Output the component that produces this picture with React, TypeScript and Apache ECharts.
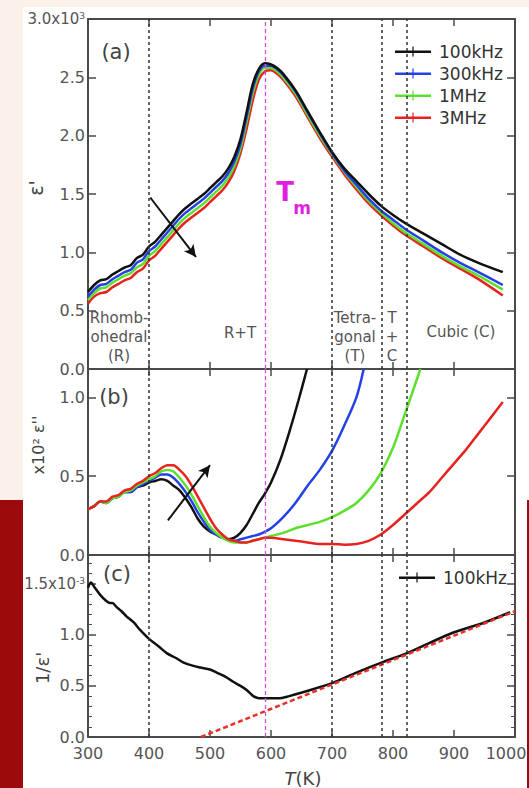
import React, { useEffect, useRef } from 'react';
import * as echarts from 'echarts';

// ---------- data ----------
const X_MIN = 300;
const X_MAX = 1000;

// panel (a): real permittivity (x10^3)
const T_A = [300, 310, 320, 330, 340, 350, 360, 370, 380, 390, 400, 410, 420, 430, 440, 450, 460, 470, 480, 490, 500, 510, 520, 530, 540, 550, 560, 570, 580, 590, 600, 610, 620, 640, 660, 680, 700, 720, 740, 760, 780, 800, 820, 850, 880, 910, 940, 980];
const EPS_100K = [0.66, 0.72, 0.76, 0.77, 0.81, 0.84, 0.87, 0.89, 0.95, 0.98, 1.05, 1.09, 1.15, 1.21, 1.27, 1.33, 1.38, 1.42, 1.46, 1.50, 1.55, 1.60, 1.65, 1.72, 1.82, 1.97, 2.20, 2.44, 2.57, 2.62, 2.61, 2.58, 2.53, 2.39, 2.21, 2.03, 1.86, 1.72, 1.61, 1.50, 1.40, 1.32, 1.25, 1.16, 1.07, 0.98, 0.91, 0.83];
const EPS_300K = [0.62, 0.68, 0.72, 0.73, 0.77, 0.80, 0.83, 0.85, 0.91, 0.94, 1.01, 1.05, 1.11, 1.17, 1.23, 1.29, 1.34, 1.38, 1.42, 1.46, 1.51, 1.56, 1.61, 1.68, 1.78, 1.93, 2.16, 2.40, 2.55, 2.60, 2.60, 2.57, 2.52, 2.38, 2.20, 2.02, 1.85, 1.70, 1.58, 1.46, 1.36, 1.28, 1.20, 1.10, 1.00, 0.91, 0.83, 0.72];
const EPS_1M = [0.59, 0.65, 0.69, 0.70, 0.74, 0.77, 0.80, 0.82, 0.87, 0.90, 0.97, 1.01, 1.07, 1.13, 1.19, 1.25, 1.30, 1.34, 1.38, 1.42, 1.47, 1.52, 1.57, 1.64, 1.74, 1.89, 2.12, 2.36, 2.52, 2.58, 2.58, 2.55, 2.50, 2.36, 2.18, 2.00, 1.84, 1.69, 1.56, 1.44, 1.34, 1.25, 1.17, 1.07, 0.97, 0.88, 0.80, 0.68];
const EPS_3M = [0.56, 0.62, 0.65, 0.66, 0.70, 0.73, 0.76, 0.78, 0.83, 0.86, 0.93, 0.97, 1.03, 1.09, 1.15, 1.21, 1.26, 1.30, 1.34, 1.38, 1.43, 1.48, 1.53, 1.60, 1.70, 1.85, 2.06, 2.30, 2.48, 2.55, 2.56, 2.53, 2.48, 2.34, 2.16, 1.98, 1.82, 1.67, 1.54, 1.42, 1.32, 1.23, 1.15, 1.05, 0.95, 0.86, 0.77, 0.63];

// panel (b): imaginary permittivity (x10^2)
const T_B_100K = [300, 310, 320, 330, 340, 350, 360, 370, 380, 390, 400, 410, 420, 430, 440, 450, 460, 470, 480, 490, 500, 510, 520, 530, 540, 550, 560, 570, 580, 590, 600, 615, 630, 645, 659];
const LOSS_100K = [0.29, 0.31, 0.34, 0.33, 0.36, 0.37, 0.40, 0.40, 0.43, 0.44, 0.46, 0.47, 0.48, 0.47, 0.44, 0.41, 0.36, 0.30, 0.23, 0.18, 0.15, 0.13, 0.11, 0.10, 0.11, 0.14, 0.19, 0.26, 0.33, 0.39, 0.46, 0.60, 0.78, 0.98, 1.18];
const T_B_300K = [300, 310, 320, 330, 340, 350, 360, 370, 380, 390, 400, 410, 420, 430, 440, 450, 460, 470, 480, 490, 500, 510, 520, 530, 540, 550, 560, 570, 580, 600, 620, 640, 660, 680, 700, 720, 740, 752];
const LOSS_300K = [0.29, 0.31, 0.34, 0.33, 0.36, 0.37, 0.40, 0.40, 0.43, 0.45, 0.47, 0.49, 0.51, 0.51, 0.49, 0.45, 0.40, 0.34, 0.27, 0.21, 0.16, 0.13, 0.11, 0.10, 0.09, 0.10, 0.11, 0.12, 0.13, 0.17, 0.24, 0.33, 0.44, 0.54, 0.66, 0.82, 1.00, 1.18];
const T_B_1M = [300, 310, 320, 330, 340, 350, 360, 370, 380, 390, 400, 410, 420, 430, 440, 450, 460, 470, 480, 490, 500, 510, 520, 530, 540, 550, 560, 570, 580, 600, 620, 640, 660, 680, 700, 720, 740, 760, 780, 800, 820, 845];
const LOSS_1M = [0.29, 0.31, 0.34, 0.33, 0.36, 0.37, 0.40, 0.41, 0.44, 0.46, 0.48, 0.50, 0.53, 0.54, 0.53, 0.49, 0.44, 0.38, 0.31, 0.24, 0.18, 0.14, 0.11, 0.09, 0.08, 0.08, 0.08, 0.09, 0.10, 0.12, 0.14, 0.17, 0.19, 0.21, 0.24, 0.28, 0.33, 0.41, 0.52, 0.68, 0.90, 1.18];
const T_B_3M = [300, 310, 320, 330, 340, 350, 360, 370, 380, 390, 400, 410, 420, 430, 440, 450, 460, 470, 480, 490, 500, 510, 520, 530, 540, 550, 560, 570, 580, 590, 600, 620, 640, 660, 680, 700, 720, 740, 760, 780, 800, 820, 840, 860, 880, 900, 920, 940, 960, 980];
const LOSS_3M = [0.29, 0.31, 0.34, 0.34, 0.37, 0.38, 0.41, 0.42, 0.45, 0.47, 0.50, 0.52, 0.55, 0.57, 0.57, 0.54, 0.50, 0.44, 0.37, 0.30, 0.23, 0.17, 0.13, 0.10, 0.09, 0.08, 0.08, 0.09, 0.10, 0.11, 0.11, 0.10, 0.09, 0.08, 0.07, 0.07, 0.065, 0.07, 0.09, 0.13, 0.19, 0.26, 0.33, 0.40, 0.49, 0.58, 0.67, 0.77, 0.87, 0.97];

// panel (c): inverse permittivity (x10^-3) at 100 kHz and Curie-Weiss fit
const T_C = [300, 305, 310, 320, 330, 336, 340, 347, 355, 363, 375, 385, 400, 415, 429, 445, 456, 470, 484, 500, 511, 525, 538, 550, 560, 571, 580, 600, 615, 630, 648, 670, 701, 740, 782, 823, 860, 898, 950, 992];
const INV_100K = [1.46, 1.51, 1.47, 1.39, 1.33, 1.31, 1.31, 1.27, 1.23, 1.18, 1.12, 1.05, 0.96, 0.89, 0.82, 0.77, 0.73, 0.70, 0.68, 0.66, 0.63, 0.59, 0.54, 0.50, 0.46, 0.40, 0.38, 0.38, 0.38, 0.40, 0.43, 0.47, 0.53, 0.63, 0.73, 0.82, 0.92, 1.02, 1.12, 1.22];
const FIT_T = [485, 1000];
const FIT_V = [0, 1.23];

// phase boundaries and Tm
const PHASE_T = [400, 700, 781, 822];
const TM = 590;

// arrows (start, end) in data coords
const ARROW_A = [[402, 1.47], [477, 0.96]];
const ARROW_B = [[431, 0.22], [500, 0.57]];

const FREQS = ['100kHz', '300kHz', '1MHz', '3MHz'];
const COLORS = ['#111111', '#2441e6', '#5ce02c', '#e8231f'];

// ---------- helpers ----------
const FONT = 'DejaVu Sans';
const AXIS_COLOR = '#4a4a4a';
const LABEL_COLOR = '#555555';
const LEGEND_ICON = 'path://M0,4h36v2.4h-36z M17.4,0h1.2v10h-1.2z';

const pairs = (xs: number[], ys: number[]) => xs.map((x, i) => [x, ys[i]]);

const isMult = (v: number, step: number) => Math.abs(v / step - Math.round(v / step)) < 1e-6;

const RICH = {
  n: { fontFamily: FONT, fontSize: 15, color: LABEL_COLOR },
  s: { fontFamily: FONT, fontSize: 9, color: LABEL_COLOR, verticalAlign: 'top', lineHeight: 9 },
  last: { fontFamily: FONT, fontSize: 16, color: LABEL_COLOR, padding: [0, 18, 0, 0] },
};

function xAxis(gridIndex: number, position: 'top' | 'bottom', showLabels: boolean) {
  return {
    type: 'value',
    gridIndex,
    position,
    min: X_MIN,
    max: X_MAX,
    interval: 100,
    axisLine: { show: true, onZero: false, lineStyle: { color: AXIS_COLOR, width: 2 } },
    axisTick: { show: true, inside: true, length: 7, lineStyle: { color: AXIS_COLOR, width: 1.5 } },
    axisLabel: {
      show: showLabels,
      margin: 8,
      color: LABEL_COLOR,
      fontFamily: FONT,
      fontSize: 16,
      formatter: (v: number) => (v === X_MAX ? `{last|${v}}` : String(v)),
      rich: RICH,
      showMinLabel: true,
      showMaxLabel: true,
      hideOverlap: false,
    },
    splitLine: { show: false },
  };
}

function yAxis(
  gridIndex: number,
  position: 'left' | 'right',
  max: number,
  fmt: ((v: number) => string) | null,
  minor: boolean,
) {
  return {
    type: 'value',
    gridIndex,
    position,
    min: 0,
    max,
    interval: 0.5,
    axisLine: { show: true, onZero: false, lineStyle: { color: AXIS_COLOR, width: 2 } },
    axisTick: { show: true, inside: true, length: 8, lineStyle: { color: AXIS_COLOR, width: 1.5 } },
    minorTick: { show: minor, splitNumber: 5, length: 4, lineStyle: { color: AXIS_COLOR, width: 1 } },
    axisLabel: fmt
      ? {
          show: true,
          margin: 3,
          color: LABEL_COLOR,
          fontFamily: FONT,
          fontSize: 16,
          formatter: fmt,
          rich: RICH,
          showMinLabel: true,
          showMaxLabel: true,
        }
      : { show: false },
    splitLine: { show: false },
    minorSplitLine: { show: false },
  };
}

function markerSeries(xAxisIndex: number, yAxisIndex: number, arrow: number[][] | null) {
  const data: any[] = PHASE_T.map((t) => ({
    xAxis: t,
    lineStyle: { color: '#333333', width: 1.5, type: [3, 3] },
  }));
  data.push({ xAxis: TM, lineStyle: { color: '#d84ce2', width: 1.3, type: [4, 3] } });
  if (arrow) {
    data.push([
      { coord: arrow[0], symbol: 'none' },
      { coord: arrow[1], symbol: 'arrow', symbolSize: [9, 12], lineStyle: { color: '#111', width: 2, type: 'solid' } },
    ]);
  }
  return {
    type: 'line',
    name: 'markers',
    xAxisIndex,
    yAxisIndex,
    data: [],
    z: 1,
    silent: true,
    markLine: {
      silent: true,
      symbol: 'none',
      animation: false,
      label: { show: false },
      emphasis: { disabled: true },
      data,
    },
  };
}

function curve(name: string, color: string, xs: number[], ys: number[], axisIdx: number, extra: any = {}) {
  return {
    type: 'line',
    name,
    xAxisIndex: axisIdx,
    yAxisIndex: axisIdx,
    data: pairs(xs, ys),
    symbol: 'none',
    showSymbol: false,
    smooth: 0.3,
    z: 3,
    lineStyle: { color, width: 2.5 },
    itemStyle: { color },
    emphasis: { disabled: true },
    ...extra,
  };
}

function txt(text: string, x: number, y: number, size: number, extra: any = {}, el: any = {}) {
  return {
    type: 'text',
    x,
    y,
    z: 50,
    silent: true,
    ...el,
    style: {
      text,
      fill: LABEL_COLOR,
      fontFamily: FONT,
      fontSize: size,
      textAlign: 'center',
      textVerticalAlign: 'middle',
      ...extra,
    },
  };
}

export default function App() {
  const ref = useRef<HTMLDivElement | null>(null);

  useEffect(() => {
    if (!ref.current) return;
    const chart = echarts.init(ref.current, null, { renderer: 'svg' });

    const fmtA = (v: number) => (Math.abs(v - 3) < 1e-6 ? '{n|3.0x10}{s|3}' : isMult(v, 0.5) ? v.toFixed(1) : '');
    const fmtB = (v: number) => (isMult(v, 0.5) ? v.toFixed(1) : '');
    const fmtC = (v: number) => (Math.abs(v - 1.5) < 1e-6 ? '{n|1.5x10}{s|-3}' : isMult(v, 0.5) ? v.toFixed(1) : '');

    const legendCommon = {
      orient: 'vertical',
      padding: 0,
      icon: LEGEND_ICON,
      itemWidth: 36,
      itemHeight: 10,
      itemGap: 5,
      selectedMode: false,
      textStyle: { fontFamily: FONT, fontSize: 17, color: '#333', lineHeight: 17, padding: [0, 0, 0, 3] },
    };

    const option: any = {
      animation: false,
      backgroundColor: '#ffffff',
      grid: [
        { left: 88, top: 19, width: 427, height: 350, outerBoundsMode: 'none', containLabel: false },
        { left: 88, top: 369, width: 427, height: 186, outerBoundsMode: 'none', containLabel: false },
        { left: 88, top: 555, width: 427, height: 182, outerBoundsMode: 'none', containLabel: false },
      ],
      xAxis: [
        xAxis(0, 'bottom', false),
        xAxis(0, 'top', false),
        xAxis(1, 'bottom', false),
        xAxis(1, 'top', false),
        xAxis(2, 'bottom', true),
        xAxis(2, 'top', false),
      ],
      yAxis: [
        yAxis(0, 'left', 3.0, fmtA, false),
        yAxis(0, 'right', 3.0, null, false),
        yAxis(1, 'left', 1.18, fmtB, false),
        yAxis(1, 'right', 1.18, null, false),
        yAxis(2, 'left', 1.78, fmtC, true),
        yAxis(2, 'right', 1.78, null, true),
      ],
      legend: [
        { ...legendCommon, data: FREQS, left: 395, top: 43 },
        { ...legendCommon, data: [FREQS[0]], left: 399, top: 569 },
      ],
      series: [
        markerSeries(0, 0, ARROW_A),
        markerSeries(2, 2, ARROW_B),
        markerSeries(4, 4, null),
        curve(FREQS[3], COLORS[3], T_A, EPS_3M, 0),
        curve(FREQS[2], COLORS[2], T_A, EPS_1M, 0),
        curve(FREQS[1], COLORS[1], T_A, EPS_300K, 0),
        curve(FREQS[0], COLORS[0], T_A, EPS_100K, 0),
        curve(FREQS[0], COLORS[0], T_B_100K, LOSS_100K, 2),
        curve(FREQS[1], COLORS[1], T_B_300K, LOSS_300K, 2),
        curve(FREQS[2], COLORS[2], T_B_1M, LOSS_1M, 2),
        curve(FREQS[3], COLORS[3], T_B_3M, LOSS_3M, 2),
        curve(FREQS[0], COLORS[0], T_C, INV_100K, 4),
        curve('fit', '#e8302a', FIT_T, FIT_V, 4, {
          smooth: false,
          z: 4,
          lineStyle: { color: '#e8302a', width: 2.5, type: [5, 3] },
        }),
      ],
      graphic: [
        // page background patches of the scanned figure
        { type: 'rect', z: 100, silent: true, shape: { x: 0, y: 0, width: 529, height: 7 }, style: { fill: '#fcf1ea' } },
        { type: 'rect', z: 100, silent: true, shape: { x: 0, y: 0, width: 23, height: 500 }, style: { fill: '#fcf1ea' } },
        { type: 'rect', z: 100, silent: true, shape: { x: 0, y: 500, width: 23, height: 288 }, style: { fill: '#9c0a0c' } },
        { type: 'rect', z: 100, silent: true, shape: { x: 527, y: 500, width: 2, height: 288 }, style: { fill: '#9c0a0c' } },
        // panel tags
        txt('(a)', 116, 52, 21, { fill: '#444' }),
        txt('(b)', 114, 397, 21, { fill: '#444' }),
        txt('(c)', 117, 574, 21, { fill: '#444' }),
        // Tm
        txt('T', 285, 192, 26, { fill: '#e01fe0', fontWeight: 'bold' }),
        txt('m', 302, 208, 17, { fill: '#e01fe0', fontWeight: 'bold' }),
        // phase region labels
        txt('Rhomb-\nohedral\n(R)', 119, 337, 15, { lineHeight: 19 }),
        txt('R+T', 240, 333, 15),
        txt('Tetra-\ngonal\n(T)', 355, 337, 15, { lineHeight: 19 }),
        txt('T\n+\nC', 392, 337, 15, { lineHeight: 19 }),
        txt('Cubic (C)', 461, 332, 15),
        // axis titles
        txt("ε'", 36, 188, 19, { fill: '#444' }, { rotation: Math.PI / 2 }),
        txt("x10² ε''", 38, 445, 16, { fill: '#444' }, { rotation: Math.PI / 2 }),
        txt("1/ε'", 42, 668, 18, { fill: '#444' }, { rotation: Math.PI / 2 }),
        {
          type: 'text',
          x: 303,
          y: 778,
          z: 50,
          silent: true,
          style: {
            text: '{i|T}{n|(K)}',
            textAlign: 'center',
            textVerticalAlign: 'middle',
            fill: '#444',
            fontFamily: FONT,
            fontSize: 18,
            rich: {
              i: { fontFamily: FONT, fontSize: 18, fontStyle: 'italic', fill: '#444' },
              n: { fontFamily: FONT, fontSize: 18, fill: '#444' },
            },
          },
        },
      ],
    };

    chart.setOption(option);
    return () => {
      chart.dispose();
    };
  }, []);

  return (
    <div
      ref={ref}
      style={{ position: 'absolute', left: 0, top: 0, width: 529, height: 788, background: '#fff' }}
    />
  );
}
